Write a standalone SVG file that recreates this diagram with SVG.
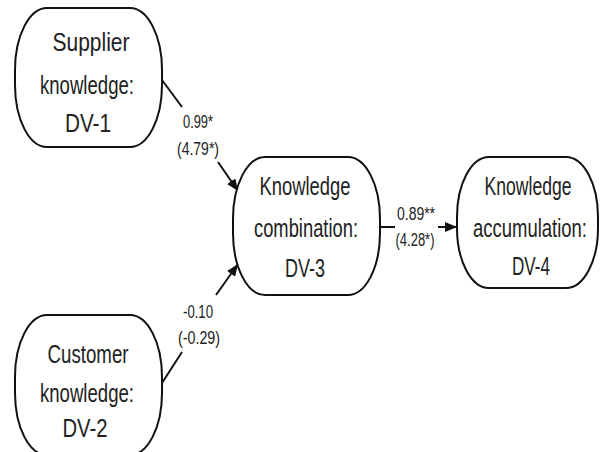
<svg xmlns="http://www.w3.org/2000/svg" width="600" height="452" viewBox="0 0 600 452">
<style>
.node{fill:#fff;stroke:#111;stroke-width:2}
.nt{font-family:"Liberation Sans",Arial,sans-serif;font-size:26px;fill:#222;text-anchor:middle}
.et{font-family:"Liberation Sans",Arial,sans-serif;font-size:18px;fill:#222;text-anchor:middle}
.edge{stroke:#111;stroke-width:2;fill:none}
</style>
<defs>
<marker id="arr" viewBox="0 0 12 10" refX="12" refY="5" markerWidth="12" markerHeight="10" markerUnits="userSpaceOnUse" orient="auto">
<path d="M0,0 L12,5 L0,10 Z" fill="#111"/>
</marker>
</defs>
<rect width="600" height="452" fill="#fff"/>
<g id="connectors">
<line class="edge" x1="162" y1="80" x2="182" y2="107"/>
<line class="edge" x1="218" y1="162" x2="238" y2="191" marker-end="url(#arr)"/>
<line class="edge" x1="162" y1="383" x2="182" y2="352"/>
<line class="edge" x1="216" y1="295" x2="238" y2="264" marker-end="url(#arr)"/>
<line class="edge" x1="380" y1="227" x2="395" y2="227"/>
<line class="edge" x1="438" y1="227" x2="457" y2="227" marker-end="url(#arr)"/>
<text class="et" x="198" y="128" textLength="30" lengthAdjust="spacingAndGlyphs">0.99*</text>
<text class="et" x="198" y="155" textLength="42" lengthAdjust="spacingAndGlyphs">(4.79*)</text>
<text class="et" x="416" y="220" textLength="38" lengthAdjust="spacingAndGlyphs">0.89**</text>
<text class="et" x="415" y="246" textLength="39" lengthAdjust="spacingAndGlyphs">(4.28*)</text>
<text class="et" x="198" y="318" textLength="30" lengthAdjust="spacingAndGlyphs">-0.10</text>
<text class="et" x="199" y="344" textLength="42" lengthAdjust="spacingAndGlyphs">(-0.29)</text>
</g>
<g id="n1">
<rect class="node" x="15" y="8" width="147" height="139" rx="32" ry="62"/>
<text class="nt" x="91" y="51" textLength="77" lengthAdjust="spacingAndGlyphs">Supplier</text>
<text class="nt" x="87" y="94" textLength="94" lengthAdjust="spacingAndGlyphs">knowledge:</text>
<text class="nt" x="88" y="132" textLength="46" lengthAdjust="spacingAndGlyphs">DV-1</text>
</g>
<g id="n2">
<rect class="node" x="15" y="315" width="147" height="140" rx="32" ry="62"/>
<text class="nt" x="88" y="363" textLength="81" lengthAdjust="spacingAndGlyphs">Customer</text>
<text class="nt" x="87" y="402" textLength="94" lengthAdjust="spacingAndGlyphs">knowledge:</text>
<text class="nt" x="85" y="437" textLength="45" lengthAdjust="spacingAndGlyphs">DV-2</text>
</g>
<g id="n3">
<rect class="node" x="233" y="157" width="147" height="138" rx="32" ry="62"/>
<text class="nt" x="305" y="195" textLength="91" lengthAdjust="spacingAndGlyphs">Knowledge</text>
<text class="nt" x="306" y="237" textLength="104" lengthAdjust="spacingAndGlyphs">combination:</text>
<text class="nt" x="305" y="277" textLength="40" lengthAdjust="spacingAndGlyphs">DV-3</text>
</g>
<g id="n4">
<rect class="node" x="457" y="157" width="141" height="131" rx="32" ry="60"/>
<text class="nt" x="528" y="195" textLength="87" lengthAdjust="spacingAndGlyphs">Knowledge</text>
<text class="nt" x="530" y="237" textLength="114" lengthAdjust="spacingAndGlyphs">accumulation:</text>
<text class="nt" x="531" y="275" textLength="38" lengthAdjust="spacingAndGlyphs">DV-4</text>
</g>
</svg>
